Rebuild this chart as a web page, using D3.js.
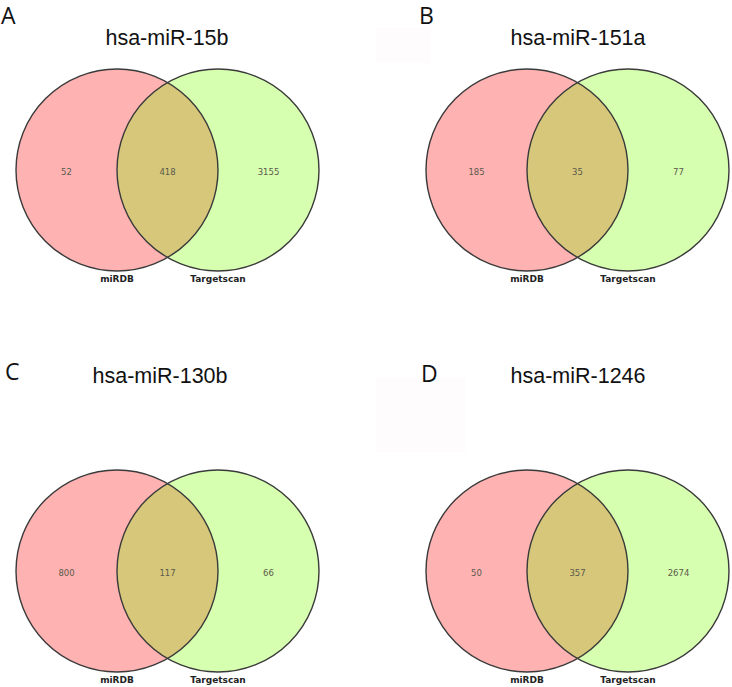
<!DOCTYPE html>
<html>
<head>
<meta charset="utf-8">
<script src="https://cdn.jsdelivr.net/npm/d3@7"></script>
<style>
  body { margin:0; background:#fff; }
  svg { display:block; }
</style>
</head>
<body>
<svg width="732" height="687"></svg>
<script>
// panel data
var letters = ["A", "B", "C", "D"];
var titles = ["hsa-miR-15b", "hsa-miR-151a", "hsa-miR-130b", "hsa-miR-1246"];
var setNames = ["miRDB", "Targetscan"];
var onlyLeft = [52, 185, 800, 50];
var both = [418, 35, 117, 357];
var onlyRight = [3155, 77, 66, 2674];

var svg = d3.select("svg");
var W = 732, H = 687;

// layout of each panel (left circle centre)
var panelX = [117, 527, 117, 527];
var panelY = [170, 170, 571, 571];
var titleX = [167, 578, 160, 578];
var titleY = [45, 45, 383, 383];
var letterX = [1, 419, 5, 421];
var letterY = [24, 24, 380, 382];
var R = 101;

// faint artefacts in the original image
svg.append("rect").attr("x", 376).attr("y", 28).attr("width", 55).attr("height", 35).style("fill", "#fefcfc");
svg.append("rect").attr("x", 376).attr("y", 378).attr("width", 90).attr("height", 74).style("fill", "#fefcfc");

for(var i=0;i<4;i++)
{
  var g = svg.append("g").attr("transform", "translate(" + panelX[i] + "," + panelY[i] + ")");
  // x scale in circle units: 0 = left centre, 1 = right centre
  var x = d3.scaleLinear().domain([0, 1]).range([0, R]);
  var id = "clip" + i;

  g.append("clipPath").attr("id", id)
    .append("circle").attr("cx", x(1)).attr("cy", 0).attr("r", R);

  g.append("circle").attr("cx", x(0)).attr("cy", 0).attr("r", R).style("fill", "#ffb2b2");
  g.append("circle").attr("cx", x(1)).attr("cy", 0).attr("r", R).style("fill", "#d7ffb0");
  g.append("circle").attr("cx", x(0)).attr("cy", 0).attr("r", R)
    .attr("clip-path", "url(#" + id + ")").style("fill", "#d7c77b");

  g.selectAll("circle.edge").data([0, 1]).enter()
    .append("circle").attr("class", "edge")
    .attr("cx", d => x(d)).attr("cy", 0).attr("r", R)
    .style("fill", "none").style("stroke", "#3a3a3a").style("stroke-width", 1.4);

  var nums = [[onlyLeft[i], -0.5], [both[i], 0.5], [onlyRight[i], 1.5]];
  g.selectAll("text.num").data(nums).enter()
    .append("text").attr("class", "num")
    .attr("x", d => x(d[1])).attr("y", 2)
    .attr("text-anchor", "middle").attr("dy", ".35em")
    .style("font-family", "DejaVu Sans").style("font-size", "8.5px").style("fill", "#5a5a4a")
    .text(d => d[0]);

  g.selectAll("text.set").data(setNames).enter()
    .append("text").attr("class", "set")
    .attr("x", (d, k) => x(k)).attr("y", 109)
    .attr("text-anchor", "middle").attr("dy", ".35em")
    .style("font-family", "DejaVu Sans").style("font-weight", "bold").style("font-size", "9px").style("fill", "#222")
    .text(d => d);

  svg.append("text")
    .attr("x", titleX[i]).attr("y", titleY[i])
    .attr("text-anchor", "middle")
    .style("font-family", "Liberation Sans").style("font-size", "21.5px").style("fill", "#111")
    .text(titles[i]);

  svg.append("text")
    .attr("x", letterX[i]).attr("y", letterY[i])
    .style("font-family", "Open Sans").style("font-size", "23px").style("fill", "#111")
    .text(letters[i]);
}
</script>
</body>
</html>
